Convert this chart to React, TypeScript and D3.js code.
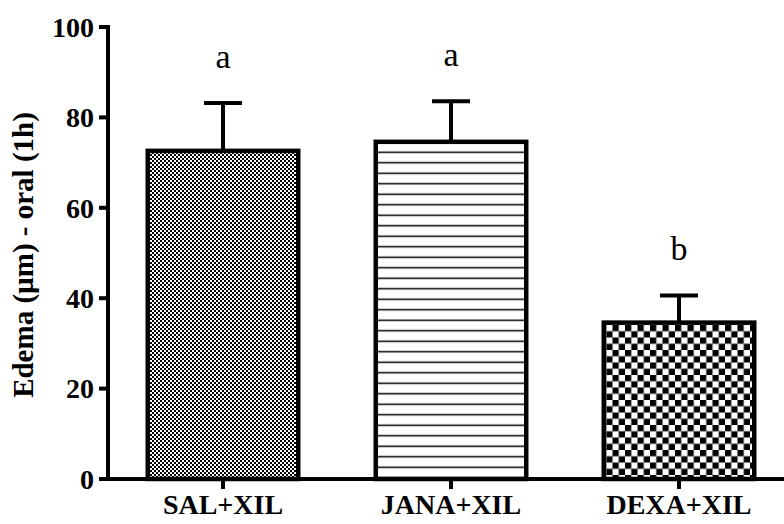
import React from "react";
import * as d3 from "d3";

// values
const groups = ["SAL+XIL", "JANA+XIL", "DEXA+XIL"];
const means = [72.6, 74.6, 34.6];
const errors = [10.6, 9.0, 6.0];
const letters = ["a", "a", "b"];
const patterns = ["fineCheck", "hLines", "bigCheck"];
const yTicks = [0, 20, 40, 60, 80, 100];

const W = 784;
const H = 524;
const font = "'Liberation Serif', 'Times New Roman', serif";

export default function App() {
  const y = d3.scaleLinear().domain([0, 100]).range([479, 27]);
  const x = d3
    .scaleBand<string>()
    .domain(groups)
    .range([109, 793])
    .paddingInner(0.34)
    .paddingOuter(0.17);
  const bw = x.bandwidth();

  return (
    <svg
      width={W}
      height={H}
      style={{ position: "absolute", left: 0, top: 0, background: "#fff" }}
    >
      <defs>
        <pattern id="fineCheck" width={4} height={4} patternUnits="userSpaceOnUse">
          <rect width={4} height={4} fill="#fff" />
          <rect width={2} height={2} fill="#000" />
          <rect x={2} y={2} width={2} height={2} fill="#000" />
        </pattern>
        <pattern id="hLines" width={10} height={10.5} patternUnits="userSpaceOnUse">
          <rect width={10} height={10.5} fill="#fff" />
          <rect y={4.5} width={10} height={1.5} fill="#000" />
        </pattern>
        <pattern id="bigCheck" width={12.5} height={12.5} patternUnits="userSpaceOnUse">
          <rect width={12.5} height={12.5} fill="#fff" />
          <rect width={6.25} height={6.25} fill="#000" />
          <rect x={6.25} y={6.25} width={6.25} height={6.25} fill="#000" />
        </pattern>
      </defs>

      {/* bars */}
      {groups.map((g, i) => {
        const x0 = x(g)!;
        const cx = x0 + bw / 2;
        const top = y(means[i]);
        const errTop = y(means[i] + errors[i]);
        return (
          <g key={g}>
            <line x1={cx} x2={cx} y1={top} y2={errTop} stroke="#000" strokeWidth={4} />
            <line x1={cx - 19} x2={cx + 19} y1={errTop} y2={errTop} stroke="#000" strokeWidth={4} />
            <rect
              x={x0}
              y={top}
              width={bw}
              height={y(0) - top}
              fill={`url(#${patterns[i]})`}
              stroke="#000"
              strokeWidth={4.5}
            />
            <text
              x={cx}
              y={y(means[i] + errors[i]) - 35}
              textAnchor="middle"
              fontFamily={font}
              fontSize={34}
            >
              {letters[i]}
            </text>
            <line x1={cx} x2={cx} y1={y(0)} y2={y(0) + 10} stroke="#000" strokeWidth={4} />
            <text
              x={cx}
              y={514}
              textAnchor="middle"
              fontFamily={font}
              fontWeight="bold"
              fontSize={28}
            >
              {g}
            </text>
          </g>
        );
      })}

      {/* axes */}
      <line x1={108} x2={784} y1={y(0)} y2={y(0)} stroke="#000" strokeWidth={4} />
      <line x1={108} x2={108} y1={y(100) - 2} y2={y(0) + 2} stroke="#000" strokeWidth={4} />
      {yTicks.map((t) => (
        <g key={t}>
          <line x1={99} x2={108} y1={y(t)} y2={y(t)} stroke="#000" strokeWidth={4} />
          <text
            x={94}
            y={y(t)}
            dy="0.35em"
            textAnchor="end"
            fontFamily={font}
            fontWeight="bold"
            fontSize={28}
          >
            {t}
          </text>
        </g>
      ))}
      <text
        transform="translate(33,255) rotate(-90)"
        textAnchor="middle"
        fontFamily={font}
        fontWeight="bold"
        fontSize={29}
      >
        Edema (µm) - oral (1h)
      </text>
    </svg>
  );
}
